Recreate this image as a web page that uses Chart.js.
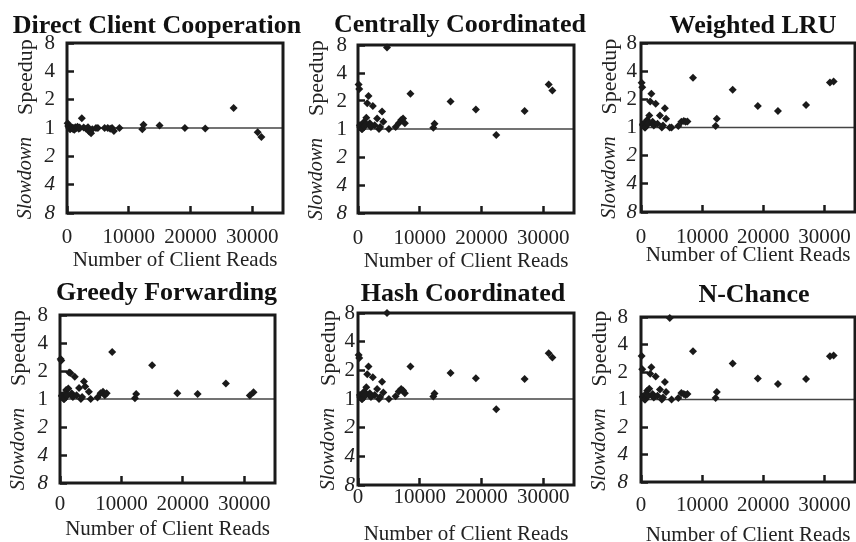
<!DOCTYPE html>
<html>
<head>
<meta charset="utf-8">
<title>Speedup per client</title>
<script src="https://cdn.jsdelivr.net/npm/chart.js@4.4.1/dist/chart.umd.min.js"></script>
<style>
  html, body { margin: 0; padding: 0; overflow: hidden; background: #fff; }
  #wrap { position: relative; width: 856px; height: 542px; overflow: hidden; }
  #wrap canvas { position: absolute; left: 0; top: 0; }
</style>
</head>
<body>
<div id="wrap"></div>
<script>
// reads issued by each client, same clients in every panel
var clientReads = [100, 200, 300, 350, 500, 600, 700, 800, 900, 1000, 1100, 1200, 1350, 1500, 1700, 1900, 2000, 2100, 2400, 2700,
  3100, 3400, 3600, 3900, 4100, 4700, 5000, 6100, 6600, 7000, 7300, 7600, 8500, 12200, 12400, 15000, 19100, 22400, 27000, 30900, 31500];

// speedup of each client over the baseline (below 1 = slowdown)
var directCoop = [1.12, 1.05, 1.03, 1.0, 0.97, 0.99, 1.02, 1.01, 0.98, 1.0, 0.97, 0.96, 1.02, 1.0, 1.03, 0.98, 1.01, 1.0, 1.27, 1.01,
  0.98, 1.02, 0.92, 0.88, 0.97, 1.0, 1.0, 1.0, 1.0, 0.98, 1.0, 0.93, 1.0, 0.97, 1.08, 1.06, 1.0, 0.99, 1.63, 0.90, 0.80];
var centralCoord = [3.0, 2.7, 1.1, 1.05, 1.1, 1.0, 1.0, 1.12, 1.15, 1.2, 1.08, 1.1, 1.32, 1.89, 2.27, 1.15, 1.1, 1.05, 1.77, 1.1,
  1.3, 1.0, 1.05, 1.54, 1.2, 7.5, 1.0, 1.05, 1.15, 1.25, 1.3, 1.15, 2.4, 1.03, 1.14, 1.97, 1.62, 0.86, 1.56, 3.0, 2.6];
var weightedLRU = [3.0, 2.7, 1.08, 1.05, 1.1, 1.0, 1.0, 1.12, 1.15, 1.2, 1.1, 1.1, 1.34, 1.9, 2.3, 1.15, 1.08, 1.05, 1.79, 1.1,
  1.34, 1.0, 1.05, 1.61, 1.24, 1.0, 1.0, 1.04, 1.15, 1.17, 1.15, 1.16, 3.4, 1.04, 1.24, 2.53, 1.7, 1.5, 1.74, 3.03, 3.1];
var greedyFwd = [2.7, 2.6, 1.08, 1.1, 1.05, 1.0, 1.0, 1.12, 1.15, 1.25, 1.1, 1.1, 1.3, 1.93, 1.9, 1.15, 1.08, 1.05, 1.74, 1.1,
  1.31, 1.0, 1.05, 1.54, 1.36, 1.2, 1.0, 1.04, 1.15, 1.2, 1.1, 1.15, 3.2, 1.02, 1.13, 2.3, 1.15, 1.13, 1.47, 1.09, 1.18];
var hashCoord = [2.9, 2.7, 1.1, 1.05, 1.1, 1.0, 1.0, 1.12, 1.15, 1.2, 1.08, 1.1, 1.33, 1.82, 2.19, 1.15, 1.1, 1.05, 1.69, 1.1,
  1.27, 1.0, 1.05, 1.52, 1.17, 8.0, 1.0, 1.07, 1.2, 1.27, 1.23, 1.15, 2.19, 1.06, 1.14, 1.88, 1.65, 0.78, 1.62, 3.03, 2.72];
var nChance = [3.0, 2.15, 1.08, 1.05, 1.1, 1.0, 1.0, 1.12, 1.15, 1.25, 1.1, 1.1, 1.31, 1.91, 2.26, 1.15, 1.08, 1.05, 1.79, 1.1,
  1.29, 1.0, 1.05, 1.55, 1.21, 7.8, 1.0, 1.04, 1.18, 1.15, 1.12, 1.15, 3.38, 1.04, 1.21, 2.48, 1.7, 1.48, 1.68, 2.98, 3.03];

var titles = ["Direct Client Cooperation", "Centrally Coordinated", "Weighted LRU",
  "Greedy Forwarding", "Hash Coordinated", "N-Chance"];
var series = [directCoop, centralCoord, weightedLRU, greedyFwd, hashCoord, nChance];

var speedupTicks = [0.125, 0.25, 0.5, 1, 2, 4, 8];
var readsTicks = [0, 10000, 20000, 30000];
var readsMax = 35000;

// where each panel's plot box sits on the page: [left, right, top, bottom]
var layouts = [
  {area: [67, 283, 43, 213], titleDx: -18, titleDy: 10, sideDx: 41, yPad: 19, xPad: 19, xTitlePad: 6},
  {area: [358, 574, 45, 213], titleDx: -6, titleDy: 13, sideDx: 41, yPad: 18, xPad: 20, xTitlePad: 5},
  {area: [641, 855, 43, 212], titleDx: 5, titleDy: 10, sideDx: 31, yPad: 11, xPad: 20, xTitlePad: 10},
  {area: [60, 275, 315, 483], titleDx: -1, titleDy: 15, sideDx: 41, yPad: 19, xPad: 16, xTitlePad: 7},
  {area: [358, 574, 313, 485], titleDx: -3, titleDy: 12, sideDx: 29, yPad: 10, xPad: 7, xTitlePad: 4},
  {area: [641, 855, 317, 482], titleDx: 6, titleDy: 15, sideDx: 41, yPad: 20, xPad: 18, xTitlePad: 0}
];

var W = 856, H = 560, Y_AXIS_W = 50, X_AXIS_H = 66;
var serif = "'Liberation Serif', 'Times New Roman', serif";
var ink = "#1a1a1a";

// frame, the "1" line, panel title and the Speedup / Slowdown side labels
var panelText = {
  id: "panelText",
  beforeDatasetsDraw: function (chart, args, o) {
    var a = chart.chartArea, ctx = chart.ctx;
    var one = chart.scales.y.getPixelForValue(1);
    ctx.save();
    ctx.strokeStyle = "#444";
    ctx.lineWidth = 1.5;
    ctx.beginPath();
    ctx.moveTo(a.left, one);
    ctx.lineTo(a.right, one);
    ctx.stroke();

    ctx.strokeStyle = ink;
    ctx.lineWidth = 3;
    ctx.strokeRect(a.left, a.top, a.right - a.left, a.bottom - a.top);

    ctx.fillStyle = "#111";
    ctx.font = "bold 26px " + serif;
    ctx.textAlign = "center";
    ctx.textBaseline = "alphabetic";
    ctx.fillText(o.title, (a.left + a.right) / 2 + o.titleDx, a.top - o.titleDy);

    ctx.fillStyle = "#222";
    ctx.translate(a.left - o.sideDx, one);
    ctx.rotate(-Math.PI / 2);
    ctx.textBaseline = "middle";
    ctx.font = "22px " + serif;
    ctx.textAlign = "left";
    ctx.fillText("Speedup", 13, 0);
    ctx.font = "italic 20px " + serif;
    ctx.textAlign = "right";
    ctx.fillText("Slowdown", -9, 0);
    ctx.restore();
  }
};

// fixed axis sizes, and no extra room reserved for overhanging labels
function fixHeight(s) { s.height = X_AXIS_H; s.paddingLeft = s.paddingRight = 0; }
function fixWidth(s) { s.width = Y_AXIS_W; s.paddingTop = s.paddingBottom = 0; }

var wrap = document.getElementById("wrap");

for (var i = 0; i < titles.length; i++) {
  var L = layouts[i];
  var canvas = document.createElement("canvas");
  canvas.width = W;
  canvas.height = H;
  wrap.appendChild(canvas);

  var points = clientReads.map(function (x, k) { return {x: x, y: this[k]}; }, series[i]);

  new Chart(canvas, {
    type: "scatter",
    data: {
      datasets: [{
        data: points,
        pointStyle: "rectRot",
        pointRadius: 4,
        pointHoverRadius: 4,
        backgroundColor: ink,
        borderWidth: 0,
        clip: false
      }]
    },
    options: {
      responsive: false,
      animation: false,
      events: [],
      layout: {
        autoPadding: false,
        padding: {
          left: L.area[0] - Y_AXIS_W,
          right: W - L.area[1],
          top: L.area[2],
          bottom: H - L.area[3] - X_AXIS_H
        }
      },
      plugins: {
        legend: {display: false},
        tooltip: {enabled: false},
        panelText: {title: titles[i], titleDx: L.titleDx, titleDy: L.titleDy, sideDx: L.sideDx}
      },
      scales: {
        x: {
          type: "linear",
          min: 0,
          max: readsMax,
          afterFit: fixHeight,
          afterBuildTicks: function (s) {
            s.ticks = readsTicks.map(function (v) { return {value: v}; });
          },
          border: {display: false},
          grid: {drawOnChartArea: false, drawTicks: true, tickLength: -7, tickWidth: 2.5, tickColor: ink},
          ticks: {
            autoSkip: false,
            maxRotation: 0,
            padding: L.xPad,
            color: "#222",
            font: {family: serif, size: 21},
            callback: function (v) { return String(v); }
          },
          title: {
            display: true,
            text: "Number of Client Reads",
            color: "#222",
            font: {family: serif, size: 21},
            padding: {top: 0, bottom: L.xTitlePad}
          }
        },
        y: {
          type: "logarithmic",
          min: speedupTicks[0],
          max: speedupTicks[speedupTicks.length - 1],
          afterFit: fixWidth,
          afterBuildTicks: function (s) {
            s.ticks = speedupTicks.map(function (v) { return {value: v}; });
          },
          border: {display: false},
          grid: {drawOnChartArea: false, drawTicks: true, tickLength: -7, tickWidth: 2.5, tickColor: ink},
          ticks: {
            autoSkip: false,
            padding: L.yPad,
            color: "#222",
            font: function (c) {
              var slow = c.tick && c.tick.value < 1;
              return {family: serif, size: 21, style: slow ? "italic" : "normal"};
            },
            // slowdowns are labelled by their factor, e.g. 0.25 -> 4
            callback: function (v) { return v >= 1 ? String(v) : String(Math.round(1 / v)); }
          }
        }
      }
    },
    plugins: [panelText]
  });
}
</script>
</body>
</html>
